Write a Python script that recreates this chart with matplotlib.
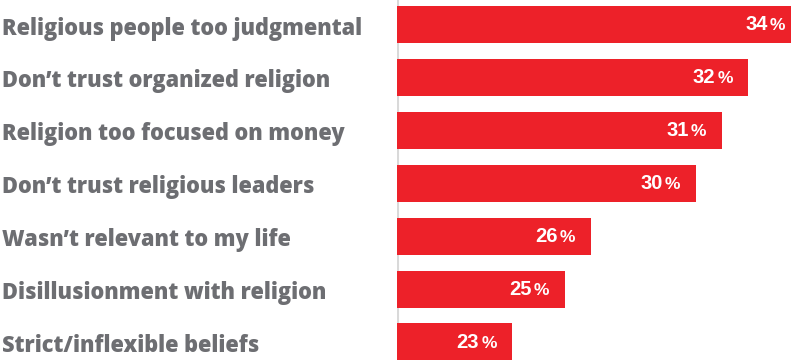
import matplotlib.pyplot as plt
from matplotlib.offsetbox import AnnotationBbox, HPacker, TextArea

reasons = [
    "Religious people too judgmental",
    "Don\u2019t trust organized religion",
    "Religion too focused on money",
    "Don\u2019t trust religious leaders",
    "Wasn\u2019t relevant to my life",
    "Disillusionment with religion",
    "Strict/inflexible beliefs",
]
shares = [34, 32, 31, 30, 26, 25, 23]

RED = "#ED2129"
GRAY = "#6D6E72"

fig = plt.figure(figsize=(7.91, 3.6), dpi=100)
ax = fig.add_axes([397 / 791, 0, 394 / 791, 1])

ypos = list(range(len(reasons)))
ax.barh(ypos, shares, height=0.7, color=RED, edgecolor="none")

ax.set_xlim(18.61, 33.64)
ax.set_ylim(6.34, -0.463)
ax.axis("off")

# thin baseline where the bars start
ax.axvline(18.61, color="#D9D9D9", lw=2.2, zorder=0)

num_style = dict(color="white", fontsize=14.5, family="Liberation Sans", fontweight="bold")
pct_style = dict(color="white", fontsize=12.5, family="Liberation Sans", fontweight="bold")

for y, name, v in zip(ypos, reasons, shares):
    ax.annotate(name, xy=(-397 / 394, y), xycoords=ax.get_yaxis_transform(),
                xytext=(1.5, -7.2), textcoords="offset points",
                ha="left", va="baseline", color=GRAY, fontsize=15.7,
                family="Open Sans", fontweight=800, annotation_clip=False)

    # big number followed by a smaller percent sign, sitting on one baseline
    label = HPacker(children=[TextArea(str(v), textprops=num_style),
                              TextArea("%", textprops=pct_style)],
                    align="baseline", pad=0, sep=1.5)
    ab = AnnotationBbox(label, (v, y), xybox=(-11, 0), boxcoords="offset points",
                        box_alignment=(1, 0.5), frameon=False, pad=0,
                        annotation_clip=False)
    ax.add_artist(ab)

fig.savefig("out.png", dpi=100)
